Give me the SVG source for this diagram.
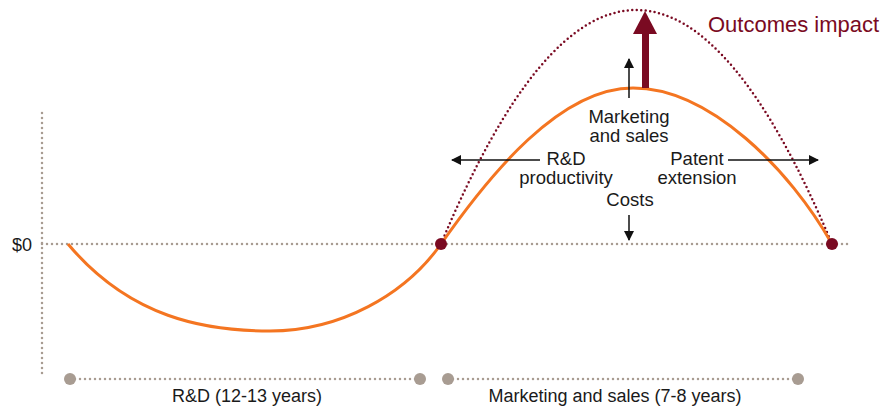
<svg xmlns="http://www.w3.org/2000/svg" width="893" height="409" viewBox="0 0 893 409">
<style>
text{font-family:"Liberation Sans",Arial,sans-serif;fill:#1a1a1a;font-size:18.5px}
.mid{text-anchor:middle}
.sm{font-size:18px}
.out{font-size:22px;fill:#7a0a22}
.gdot{stroke:#a89c92;stroke-width:2.5;stroke-dasharray:0 5;stroke-linecap:round;fill:none}
.gpt{fill:#a89c92}
.rpt{fill:#7a0a22}
.blk{stroke:#111;stroke-width:1.5;fill:none}
</style>
<defs>
<marker id="ah" markerWidth="10" markerHeight="10" refX="9" refY="5" orient="auto" markerUnits="userSpaceOnUse">
<path d="M0,0 L10,5 L0,10 Z" fill="#111"/>
</marker>
</defs>
<g id="axes">
<line class="gdot" x1="42" y1="113" x2="42" y2="376"/>
<line class="gdot" x1="42" y1="244" x2="848" y2="244"/>
<text x="12" y="251" class="sm">$0</text>
</g>
<g id="curves">
<path d="M441,244 Q636,-224 832,244" fill="none" stroke="#7a0a22" stroke-width="2.5" stroke-dasharray="0 4.5" stroke-linecap="round"/>
<path d="M68,244 C130,318 205,331 270,331 C340,331 405,295 441,244 C490,174 560,88 633,88 C710,88 790,170 832,244" fill="none" stroke="#f47521" stroke-width="3"/>
<circle class="rpt" cx="441" cy="244" r="6"/>
<circle class="rpt" cx="832" cy="244" r="6"/>
</g>
<g id="connectors">
<line class="blk" x1="629" y1="98" x2="629" y2="59" marker-end="url(#ah)"/>
<line class="blk" x1="629" y1="215" x2="629" y2="240" marker-end="url(#ah)"/>
<line class="blk" x1="540" y1="160" x2="452" y2="160" marker-end="url(#ah)"/>
<line class="blk" x1="728" y1="160" x2="818" y2="160" marker-end="url(#ah)"/>
<rect x="642" y="32" width="7" height="56" fill="#7a0a22"/>
<path d="M633,34 L645,11 L657,34 Z" fill="#7a0a22"/>
</g>
<g id="labels">
<text x="629" y="123" class="mid">Marketing</text>
<text x="629" y="142" class="mid">and sales</text>
<text x="566" y="164.5" class="mid">R&amp;D</text>
<text x="566" y="184" class="mid">productivity</text>
<text x="697" y="164.5" class="mid">Patent</text>
<text x="697" y="184" class="mid">extension</text>
<text x="630" y="206" class="mid">Costs</text>
<text x="708" y="32" class="out">Outcomes impact</text>
</g>
<g id="timeline-rd">
<line class="gdot" x1="70" y1="379" x2="420" y2="379"/>
<circle class="gpt" cx="70" cy="379" r="6"/>
<circle class="gpt" cx="420" cy="379" r="6"/>
<text x="247" y="402" class="mid sm">R&amp;D (12-13 years)</text>
</g>
<g id="timeline-ms">
<line class="gdot" x1="448" y1="379" x2="798" y2="379"/>
<circle class="gpt" cx="448" cy="379" r="6"/>
<circle class="gpt" cx="798" cy="379" r="6"/>
<text x="615" y="402" class="mid sm">Marketing and sales (7-8 years)</text>
</g>
</svg>
